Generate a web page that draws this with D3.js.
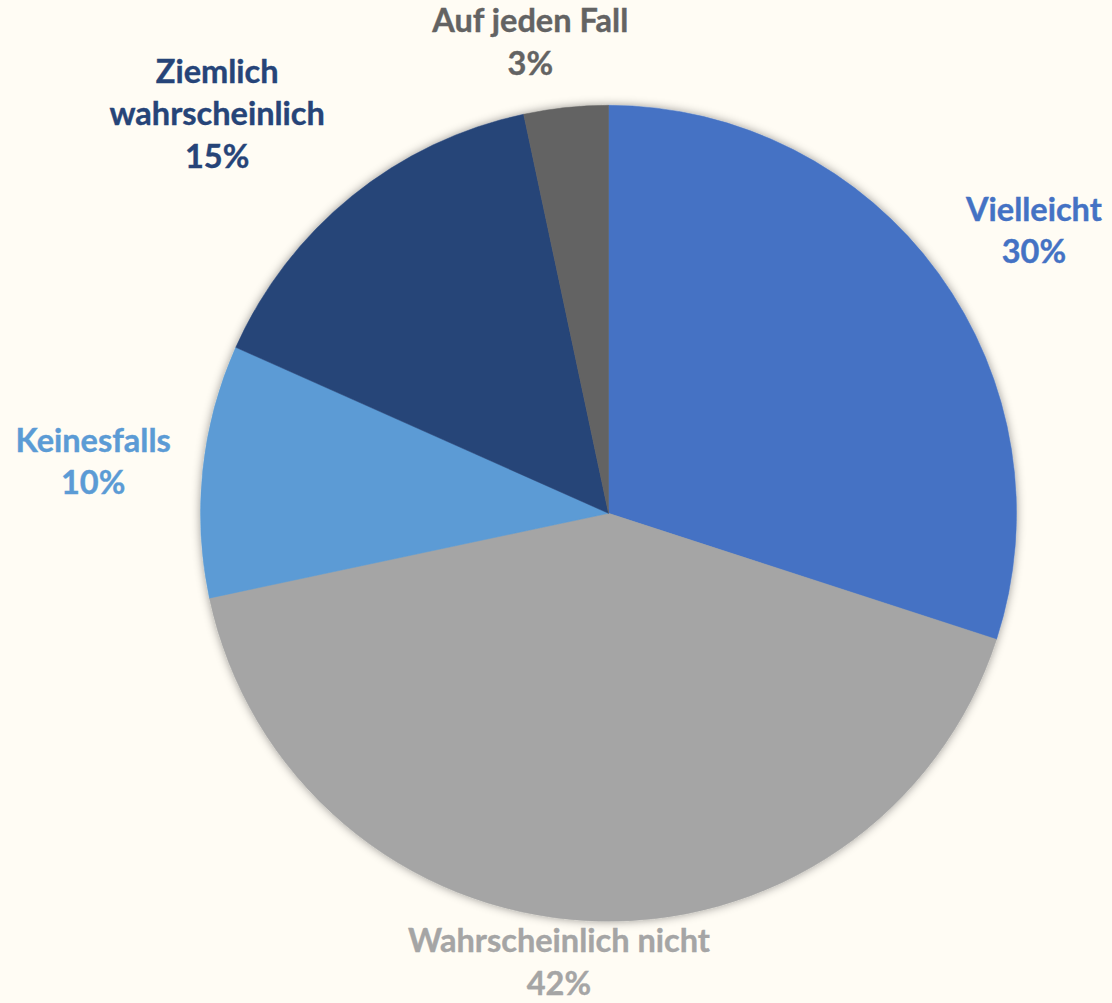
<!DOCTYPE html>
<html>
<head>
<meta charset="utf-8">
<script src="https://cdn.jsdelivr.net/npm/d3@7/dist/d3.min.js"></script>
<style>
  html, body { margin: 0; padding: 0; background: #FFFCF4; }
  svg { display: block; }
</style>
</head>
<body>
<svg id="chart" width="1112" height="1003"></svg>
<script>
// ---- data ----
const categories = ["Vielleicht", "Wahrscheinlich nicht", "Keinesfalls", "Ziemlich wahrscheinlich", "Auf jeden Fall"];
const counts = [18, 25, 6, 9, 2];
const labelLines = [["Vielleicht"], ["Wahrscheinlich nicht"], ["Keinesfalls"], ["Ziemlich", "wahrscheinlich"], ["Auf jeden Fall"]];
const colors = ["#4472C4", "#A5A5A5", "#5B9BD5", "#264478", "#636363"];

// ---- layout ----
const W = 1112, H = 1003;
const cx = 608.5, cy = 513.3, R = 408;
const labelR = 490;
const fontSize = 32.5, lineH = 42.5;
// label nudges relative to the centroid at labelR
const labelNudge = [[29, 6], [-24, -40], [-28, 0], [-83, -18], [-27, 17]];

const svg = d3.select("#chart");
svg.append("rect").attr("width", W).attr("height", H).attr("fill", "#FFFCF4");

const defs = svg.append("defs");
const f = defs.append("filter").attr("id", "shadow").attr("x", "-10%").attr("y", "-10%").attr("width", "120%").attr("height", "120%");
f.append("feDropShadow").attr("dx", 0).attr("dy", 0).attr("stdDeviation", 5)
  .attr("flood-color", "#000").attr("flood-opacity", 0.4);

const data = categories.map((c, i) => ({ cat: c, value: counts[i], color: colors[i], lines: labelLines[i], nudge: labelNudge[i] }));
const total = d3.sum(counts);
const pie = d3.pie().value(d => d.value).sort(null);
const arcs = pie(data);
const arc = d3.arc().innerRadius(0).outerRadius(R);
const labelArc = d3.arc().innerRadius(labelR).outerRadius(labelR);
const pct = d3.format(".0%");

const g = svg.append("g").attr("transform", `translate(${cx},${cy})`);
const pieG = g.append("g").attr("filter", "url(#shadow)");
pieG.selectAll("path").data(arcs).join("path")
  .attr("d", arc)
  .attr("fill", d => d.data.color)
  .attr("stroke", d => d.data.color)
  .attr("stroke-width", 0.5);

const lab = g.selectAll("text.lab").data(arcs).join("text")
  .attr("class", "lab")
  .attr("text-anchor", "middle")
  .attr("font-family", "Lato, 'Open Sans', sans-serif")
  .attr("font-weight", "bold")
  .attr("font-size", fontSize)
  .attr("stroke", d => d.data.color)
  .attr("stroke-width", 0.4)
  .attr("fill", d => d.data.color);

lab.each(function(d) {
  const [x0, y0] = labelArc.centroid(d);
  const x = x0 + d.data.nudge[0], y = y0 + d.data.nudge[1];
  const lines = d.data.lines.concat([pct(d.data.value / total)]);
  const n = lines.length;
  const t = d3.select(this);
  lines.forEach((ln, i) => {
    t.append("tspan").attr("x", x)
      .attr("y", y - (n - 1) * lineH / 2 + i * lineH + 0.33 * fontSize)
      .text(ln);
  });
});
</script>
</body>
</html>
